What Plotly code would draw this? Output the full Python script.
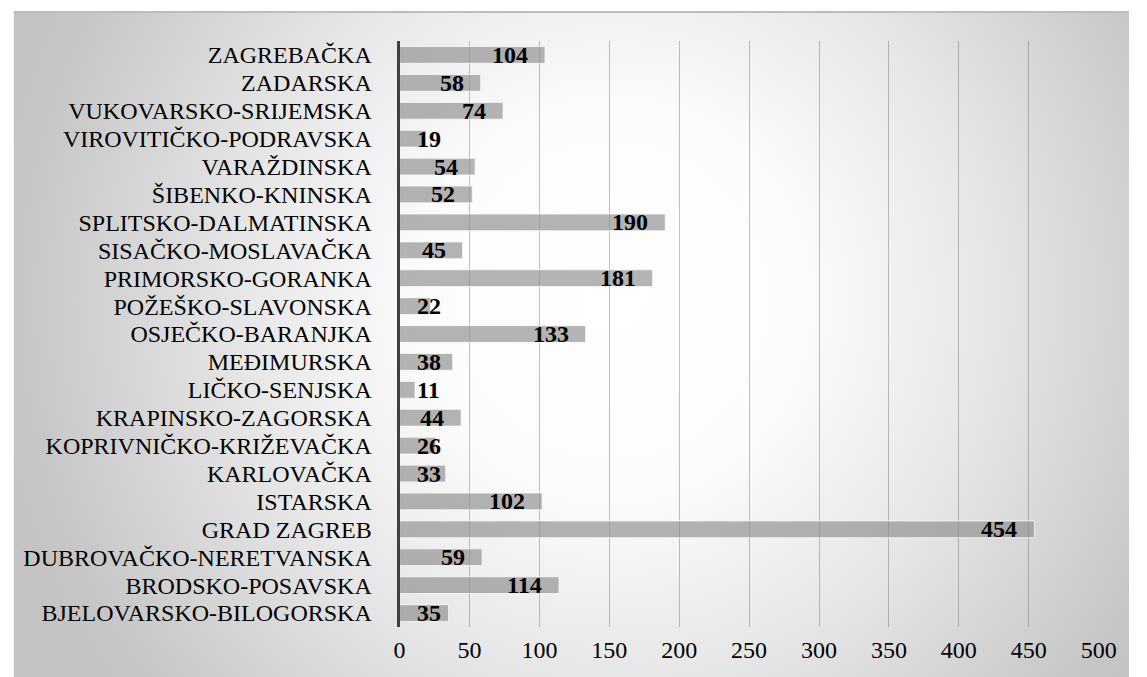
import plotly.graph_objects as go

categories = [
    "BJELOVARSKO-BILOGORSKA", "BRODSKO-POSAVSKA", "DUBROVAČKO-NERETVANSKA",
    "GRAD ZAGREB", "ISTARSKA", "KARLOVAČKA", "KOPRIVNIČKO-KRIŽEVAČKA",
    "KRAPINSKO-ZAGORSKA", "LIČKO-SENJSKA", "MEĐIMURSKA", "OSJEČKO-BARANJKA",
    "POŽEŠKO-SLAVONSKA", "PRIMORSKO-GORANKA", "SISAČKO-MOSLAVAČKA",
    "SPLITSKO-DALMATINSKA", "ŠIBENKO-KNINSKA", "VARAŽDINSKA",
    "VIROVITIČKO-PODRAVSKA", "VUKOVARSKO-SRIJEMSKA", "ZADARSKA", "ZAGREBAČKA",
]
values = [35, 114, 59, 454, 102, 33, 26, 44, 11, 38, 133, 22, 181, 45, 190, 52, 54, 19, 74, 58, 104]
x_ticks = [0, 50, 100, 150, 200, 250, 300, 350, 400, 450, 500]

FONT = "Liberation Serif"
W, H = 1147, 677

# frame (white page margin at top/left)
FL, FT = 8, 12
fw, fh = W - FL, H - FT

fig = go.Figure()

# radial gradient background: square polygon (circular gradient), clipped to the frame subplot
cx_px, cy_px, R = 620, 300, 640
cx = (cx_px - FL) / fw
cy = (H - cy_px) / fh
dx, dy = R / fw, R / fh
fig.add_trace(go.Scatter(
    x=[cx - dx, cx + dx, cx + dx, cx - dx, cx - dx],
    y=[cy - dy, cy - dy, cy + dy, cy + dy, cy - dy],
    xaxis="x", yaxis="y", mode="lines", line=dict(width=0),
    fill="toself",
    fillgradient=dict(type="radial",
                      colorscale=[[0, "#ffffff"], [0.3, "#fcfcfc"], [0.6, "#e6e6e6"], [0.95, "#c6c6c6"], [1, "#c4c4c4"]]),
    hoverinfo="skip", showlegend=False,
))

fig.add_trace(go.Bar(
    y=categories, x=values, orientation="h",
    xaxis="x2", yaxis="y2",
    width=0.6,
    marker=dict(color="rgba(140,140,140,0.65)", line=dict(color="rgba(255,255,255,0.7)", width=1)),
    hoverinfo="x+y", showlegend=False,
))

for c, v in zip(categories, values):
    if v >= 40:
        fig.add_annotation(x=v, y=c, xref="x2", yref="y2", text=f"<b>{v}</b>",
                           showarrow=False, xanchor="right", xshift=-15,
                           font=dict(family=FONT, size=24, color="black"))
    else:
        fig.add_annotation(x=0, y=c, xref="x2", yref="y2", text=f"<b>{v}</b>",
                           showarrow=False, xanchor="left", xshift=15,
                           font=dict(family=FONT, size=24, color="black"))

fig.add_shape(type="line", xref="paper", yref="paper", x0=FL / W, x1=1, y0=fh / H, y1=fh / H,
              line=dict(color="#bdbdbd", width=2), layer="above")

fig.update_layout(
    autosize=True,
    margin=dict(l=0, r=0, t=0, b=0),
    paper_bgcolor="white", plot_bgcolor="rgba(0,0,0,0)",
    font=dict(family=FONT, size=24, color="black"),
    xaxis=dict(domain=[FL / W, 1], range=[0, 1], visible=False, fixedrange=True),
    yaxis=dict(domain=[0, fh / H], range=[0, 1], visible=False, fixedrange=True),
    xaxis2=dict(domain=[402 / W, 1116 / W], range=[0, 500], anchor="y2",
                tickmode="array", tickvals=x_ticks, ticktext=[str(t) for t in x_ticks],
                showgrid=True, gridcolor="rgba(90,90,90,0.38)", gridwidth=1,
                zeroline=False, showline=False, ticks="", ticklabelstandoff=6,
                tickfont=dict(family=FONT, size=24, color="black")),
    yaxis2=dict(domain=[(H - 627) / H, (H - 41) / H], anchor="x2",
                type="category", categoryorder="array", categoryarray=categories,
                tickmode="array", tickvals=categories, ticktext=categories,
                range=[-0.5, len(categories) - 0.5],
                showline=True, linecolor="#404040", linewidth=3,
                showgrid=False, ticks="", ticklabelstandoff=20,
                tickfont=dict(family=FONT, size=24, color="black")),
)

fig.write_html(
    "out.html",
    config={"displayModeBar": False},
    default_width="100vw",
    default_height="100vh",
    post_script=("document.documentElement.style.margin='0';document.documentElement.style.overflow='hidden';"
                 "document.body.style.margin='0';document.body.style.overflow='hidden';"),
)
